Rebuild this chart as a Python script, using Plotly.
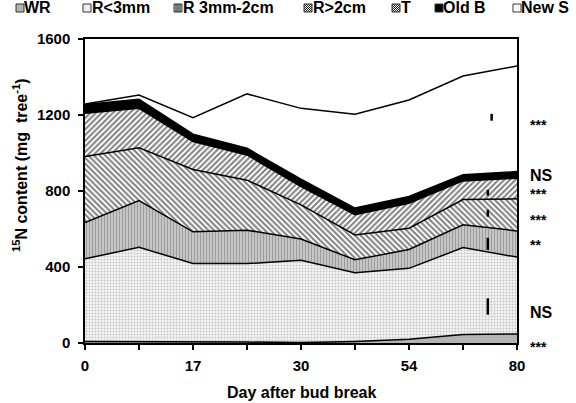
import plotly.graph_objects as go

# ---- data ----
day_labels = ["0", "", "17", "", "30", "", "54", "", "80"]
x_idx = list(range(len(day_labels)))

wr = [8, 8, 6, 5, 2, 8, 20, 45, 48]
r_lt3mm = [435, 496, 412, 413, 433, 362, 373, 457, 404]
r_3mm_2cm = [191, 246, 167, 176, 112, 68, 99, 120, 138]
r_gt2cm = [347, 278, 328, 263, 180, 131, 112, 133, 169]
trunk = [228, 207, 147, 133, 96, 106, 131, 98, 108]
old_b = [46, 48, 39, 35, 39, 35, 36, 32, 35]
new_s = [3, 22, 87, 286, 373, 494, 508, 520, 556]

lsd_x = [7.53, 7.46, 7.46, 7.46, 7.46]
lsd_center = [1188, 791, 683, 522, 192]
lsd_half = [18, 15, 18, 32, 43]

sig_labels = ["***", "NS", "***", "***", "**", "NS", "***"]
sig_y = [1160, 881, 797, 657, 526, 158, -9]

series_names = ["WR", "R<3mm", "R 3mm-2cm", "R>2cm", "T", "Old B", "New S"]
y_ticks = [0, 400, 800, 1200, 1600]
y_max = 1600

# ---- layout geometry ----
W, H = 576, 403
ML, MR, MT, MB = 85, 59, 39, 60
PW, PH = W - ML - MR, H - MT - MB
FONT = "Liberation Sans, Arial, sans-serif"


def px(xp):
    return (xp - ML) / PW


def py(yp):
    return (H - MB - yp) / PH


fig = go.Figure()
line = dict(color="black", width=1.5)

styles = [
    dict(fillcolor="#b4b4b4"),
    dict(fillcolor="#ececec",
         fillpattern=dict(shape=".", size=3, solidity=0.35, fgcolor="#9a9a9a", bgcolor="#f2f2f2")),
    dict(fillcolor="#c0c0c0",
         fillpattern=dict(shape="|", size=3, solidity=0.45, fgcolor="#6e6e6e", bgcolor="#cdcdcd")),
    dict(fillcolor="#888888",
         fillpattern=dict(shape="\\", size=4, solidity=0.5, fgcolor="black", bgcolor="white")),
    dict(fillcolor="#888888",
         fillpattern=dict(shape="/", size=4, solidity=0.5, fgcolor="black", bgcolor="white")),
    dict(fillcolor="black"),
    dict(fillcolor="white"),
]
series = [wr, r_lt3mm, r_3mm_2cm, r_gt2cm, trunk, old_b, new_s]
for name, vals, st in zip(series_names, series, styles):
    fig.add_trace(go.Scatter(x=x_idx, y=vals, name=name, mode="lines",
                             stackgroup="one", line=line, **st))

fig.add_trace(go.Scatter(
    x=lsd_x, y=lsd_center, mode="markers",
    marker=dict(size=1, color="rgba(0,0,0,0)"),
    error_y=dict(type="data", array=lsd_half, color="black", thickness=2.5, width=0),
    showlegend=False, hoverinfo="skip"))

bold = dict(family=FONT, size=15, color="black", weight="bold")

fig.update_layout(
    width=W, height=H,
    margin=dict(l=ML, r=MR, t=MT, b=MB),
    paper_bgcolor="white", plot_bgcolor="white",
    showlegend=False,
    font=dict(family=FONT, color="black"),
    xaxis=dict(range=[0, 8], tickmode="array", tickvals=x_idx, ticktext=day_labels,
               ticks="outside", ticklen=5, tickwidth=1.5, tickcolor="black",
               showline=True, linewidth=1.5, linecolor="black", mirror=True,
               showgrid=False, zeroline=False, tickfont=bold, automargin=False,
               ticklabelstandoff=3),
    yaxis=dict(range=[0, y_max], tickmode="array", tickvals=y_ticks,
               ticks="outside", ticklen=5, tickwidth=1.5, tickcolor="black",
               showline=True, linewidth=1.5, linecolor="black", mirror=True,
               showgrid=False, zeroline=False, tickfont=bold, automargin=False,
               ticklabelstandoff=5),
)

annotations = [
    dict(text="Day after bud break", x=px(301), y=py(392), xref="paper", yref="paper",
         xanchor="center", yanchor="middle",
         showarrow=False, font=dict(family=FONT, size=16, weight="bold")),
    dict(text="<sup>15</sup>N content (mg  tree<sup>-1</sup>)", x=px(20), y=py(165),
         xref="paper", yref="paper", xanchor="center", yanchor="middle",
         showarrow=False, textangle=-90,
         font=dict(family=FONT, size=16, weight="bold")),
]
for lab, yv in zip(sig_labels, sig_y):
    is_ns = lab == "NS"
    shift = 0 if is_ns else -12
    annotations.append(dict(
        text=lab, x=px(528), y=(yv + shift) / y_max, xref="paper", yref="paper",
        xanchor="left", yanchor="middle", showarrow=False,
        font=dict(family=FONT, size=16 if is_ns else 14, weight="bold")))

# manual legend
leg_sym_x = [16, 83, 174, 304, 392, 435, 513]
leg_txt_x = [22, 90, 181, 311, 399, 441, 519]
sym_fill = ["#b4b4b4", "#eeeeee", "#cfcfcf", "white", "white", "black", "white"]
sym_hatch = [None, None, "|", "\\", "/", None, None]
shapes = []
ys0, ys1 = 4, 12
S = 8
for i, name in enumerate(series_names):
    x0 = leg_sym_x[i]
    shapes.append(dict(type="rect", xref="paper", yref="paper",
                       x0=px(x0), x1=px(x0 + S), y0=py(ys1), y1=py(ys0),
                       fillcolor=sym_fill[i], line=dict(color="#333333", width=1)))
    h = sym_hatch[i]
    if h:
        segs = []
        if h == "|":
            for k in range(1, 4):
                xx = px(x0 + 2 * k)
                segs.append(f"M{xx},{py(ys0)} L{xx},{py(ys1)}")
        else:
            for a in (2, 4, 6, 8, 10, 12, 14):
                if h == "/":
                    p0x, p0y = x0 + a - S, ys1
                    p1x, p1y = x0 + a, ys0
                else:
                    p0x, p0y = x0 + a - S, ys0
                    p1x, p1y = x0 + a, ys1
                if p0x < x0:
                    d = x0 - p0x
                    p0x = x0
                    p0y = p0y + (d if p0y < p1y else -d)
                if p1x > x0 + S:
                    d = p1x - (x0 + S)
                    p1x = x0 + S
                    p1y = p1y - (d if p1y > p0y else -d)
                segs.append(f"M{px(p0x)},{py(p0y)} L{px(p1x)},{py(p1y)}")
        shapes.append(dict(type="path", xref="paper", yref="paper", path=" ".join(segs),
                           line=dict(color="#222222", width=1)))
    annotations.append(dict(text=name, x=px(leg_txt_x[i]), y=py(8), xref="paper", yref="paper",
                            xanchor="left", yanchor="middle", showarrow=False,
                            font=dict(family=FONT, size=16, weight="bold")))

fig.update_layout(annotations=annotations, shapes=shapes)
fig.write_html("out.html", config={"displayModeBar": False},
               post_script="document.body.style.margin='0px';")
